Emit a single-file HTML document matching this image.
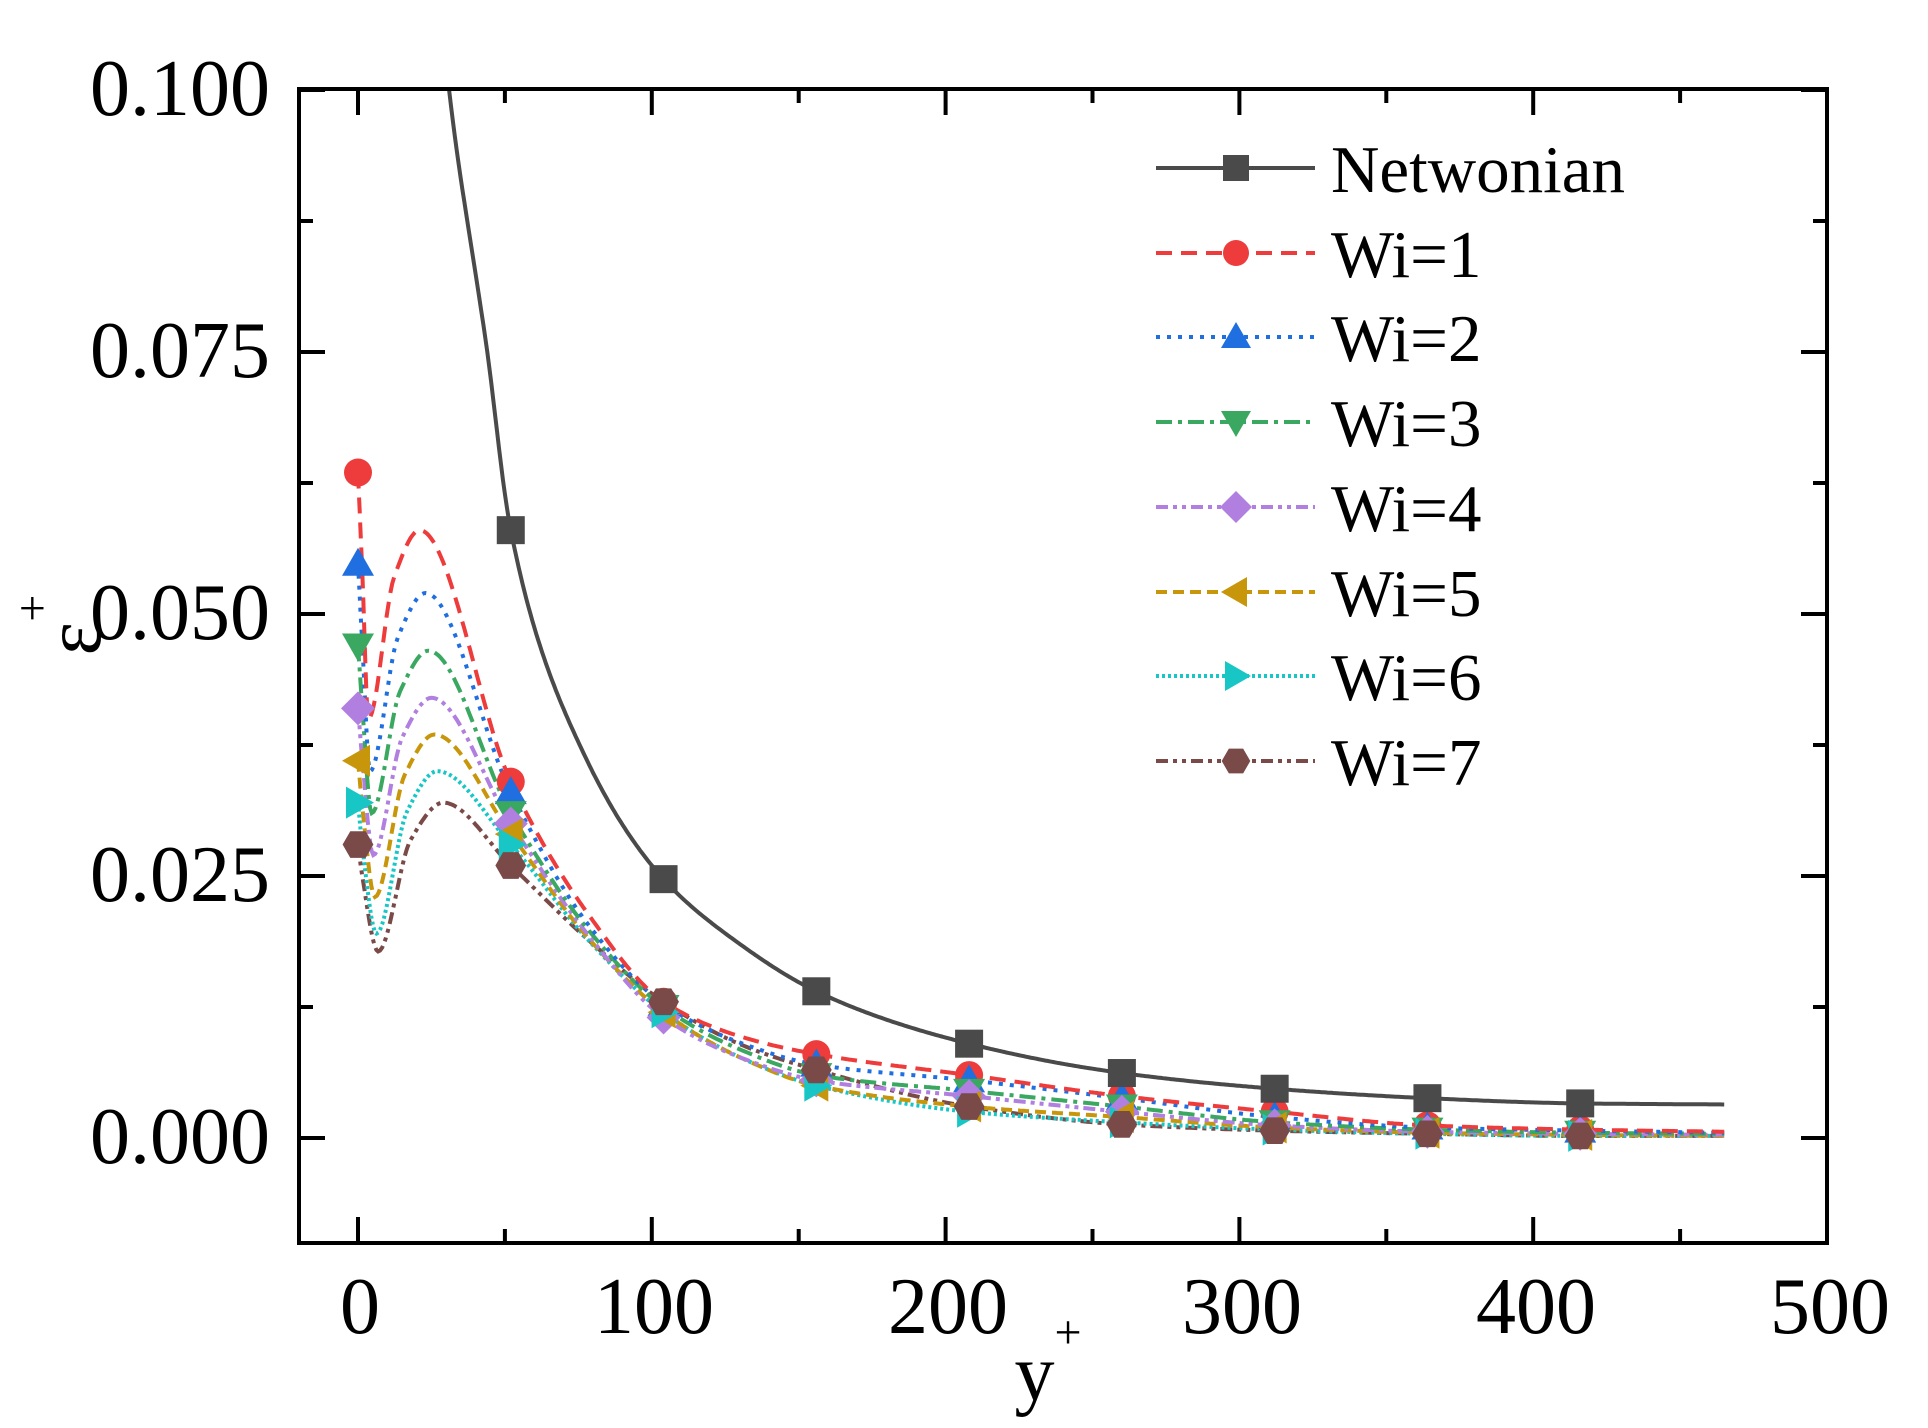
<!DOCTYPE html>
<html><head><meta charset="utf-8"><style>
html,body{margin:0;padding:0;background:#fff;}
svg{display:block;}
text{font-family:"Liberation Serif",serif;fill:#000;}
</style></head><body>
<svg id="s" width="1928" height="1428" viewBox="0 0 1928 1428" xmlns="http://www.w3.org/2000/svg">
<defs><clipPath id="c"><rect x="300" y="90" width="1526" height="1152"/></clipPath></defs>
<g id="plot" clip-path="url(#c)"></g>
<rect x="299" y="89" width="1528" height="1154" fill="none" stroke="#000" stroke-width="4"/>
<g id="ticks" stroke="#000" stroke-width="4"></g>
<g font-size="80" text-anchor="end">
<text x="270" y="115">0.100</text>
<text x="270" y="377">0.075</text>
<text x="270" y="639">0.050</text>
<text x="270" y="901">0.025</text>
<text x="270" y="1163">0.000</text>
</g>
<g font-size="80" text-anchor="middle">
<text x="360" y="1333">0</text>
<text x="654" y="1333">100</text>
<text x="948" y="1333">200</text>
<text x="1242" y="1333">300</text>
<text x="1536" y="1333">400</text>
<text x="1830" y="1333">500</text>
</g>
<text x="1048" y="1400" font-size="80" text-anchor="middle">y<tspan font-size="48" dy="-52">+</tspan></text>
<text transform="translate(100,625) rotate(-90)" font-size="80" text-anchor="middle">ε<tspan font-size="48" dy="-52">+</tspan></text>
<g id="legend"></g>
</svg>
<script>
var NS="http://www.w3.org/2000/svg";
function X(v){return 358+v*2.938;}
function Y(v){return 1138-v*10480;}
function el(p,t,a){var e=document.createElementNS(NS,t);for(var k in a)e.setAttribute(k,a[k]);p.appendChild(e);return e;}
var plot=document.getElementById('plot'),ticks=document.getElementById('ticks'),leg=document.getElementById('legend');
for(var v=0;v<=500;v+=50){var x=X(v),L=(v%100==0)?26:14;el(ticks,'line',{x1:x,y1:1243,x2:x,y2:1243-L});el(ticks,'line',{x1:x,y1:89,x2:x,y2:89+L});}
for(var i=0;i<=8;i++){var y=Y(i*0.0125),L=(i%2==0)?26:14;el(ticks,'line',{x1:299,y1:y,x2:299+L,y2:y});el(ticks,'line',{x1:1827,y1:y,x2:1827-L,y2:y});}
// monotone cubic interpolation
function mono(pts,logy){
 var n=pts.length,xs=pts.map(p=>p[0]),ys=pts.map(p=>logy?Math.log(p[1]):p[1]);
 var d=[],m=[];for(var i=0;i<n-1;i++)d.push((ys[i+1]-ys[i])/(xs[i+1]-xs[i]));
 m[0]=d[0];m[n-1]=d[n-2];
 for(var i=1;i<n-1;i++){if(d[i-1]*d[i]<=0)m[i]=0;else{var w1=2*(xs[i+1]-xs[i])+(xs[i]-xs[i-1]),w2=(xs[i+1]-xs[i])+2*(xs[i]-xs[i-1]);m[i]=(w1+w2)/(w1/d[i-1]+w2/d[i]);}}
 var out=[];
 for(var i=0;i<n-1;i++){var h=xs[i+1]-xs[i];var N=Math.max(6,Math.ceil(h*1.5));
  for(var k=0;k<N;k++){var t=k/N,t2=t*t,t3=t2*t;
   var y=(2*t3-3*t2+1)*ys[i]+(t3-2*t2+t)*h*m[i]+(-2*t3+3*t2)*ys[i+1]+(t3-t2)*h*m[i+1];
   if(logy)y=Math.exp(y);out.push([X(xs[i]+t*h),Y(y)]);}}
 out.push([X(xs[n-1]),Y(logy?Math.exp(ys[n-1]):ys[n-1])]);
 return 'M'+out.map(p=>p[0].toFixed(1)+','+p[1].toFixed(1)).join(' L');
}
function marker(g,type,x,y,c,s){s=s||14;
 if(type=='sq')el(g,'rect',{x:x-s,y:y-s,width:2*s,height:2*s,fill:c});
 else if(type=='ci')el(g,'circle',{cx:x,cy:y,r:s,fill:c});
 else if(type=='up')el(g,'polygon',{points:(x)+','+(y-s-2)+' '+(x-s-2)+','+(y+s-2)+' '+(x+s+2)+','+(y+s-2),fill:c});
 else if(type=='dn')el(g,'polygon',{points:(x)+','+(y+s+2)+' '+(x-s-2)+','+(y-s+2)+' '+(x+s+2)+','+(y-s+2),fill:c});
 else if(type=='di')el(g,'polygon',{points:x+','+(y-s-3)+' '+(x+s+3)+','+y+' '+x+','+(y+s+3)+' '+(x-s-3)+','+y,fill:c});
 else if(type=='lt')el(g,'polygon',{points:(x-s-2)+','+y+' '+(x+s-2)+','+(y-s-2)+' '+(x+s-2)+','+(y+s+2),fill:c});
 else if(type=='rt')el(g,'polygon',{points:(x+s+2)+','+y+' '+(x-s+2)+','+(y-s-2)+' '+(x-s+2)+','+(y+s+2),fill:c});
 else if(type=='hx'){var p=[];for(var k=0;k<6;k++){var a=Math.PI/3*k;p.push((x+s*1.1*Math.cos(a))+','+(y+s*1.1*Math.sin(a)));}el(g,'polygon',{points:p.join(' '),fill:c});}
}
var mx=[0,52,104,156,208,260,312,364,416];
var S=[
 {c:'#4a4a4a',m:'sq',d:'',name:'Netwonian'},
 {c:'#ee3b3b',m:'ci',d:'16 9',name:'Wi=1',v:[0.0635,0.034,0.013,0.008,0.006,0.004,0.0025,0.0012,0.0008,0.0006],mn:0.040,pk:[21,0.058],m78:0.0215},
 {c:'#1f6fe0',m:'up',d:'4 7',name:'Wi=2',v:[0.0548,0.033,0.0128,0.007,0.0055,0.0038,0.002,0.001,0.0007,0.0005],mn:0.035,pk:[23,0.052],m78:0.0205},
 {c:'#3aa860',m:'dn',d:'16 6 4 6',name:'Wi=3',v:[0.047,0.031,0.0125,0.006,0.0045,0.003,0.0015,0.0008,0.0005,0.0004],mn:0.031,pk:[24,0.0465],m78:0.02},
 {c:'#b07fe0',m:'di',d:'12 5 4 5 4 5',name:'Wi=4',v:[0.041,0.030,0.0115,0.0055,0.004,0.0025,0.0012,0.0006,0.0004,0.0003],mn:0.027,pk:[25,0.042],m78:0.0195},
 {c:'#c8960a',m:'lt',d:'11 6',name:'Wi=5',v:[0.036,0.029,0.012,0.005,0.003,0.002,0.001,0.0005,0.0003,0.0002],mn:0.023,pk:[26,0.0385],m78:0.0192},
 {c:'#18c6c6',m:'rt',d:'3 3',name:'Wi=6',v:[0.032,0.028,0.012,0.005,0.0025,0.0015,0.0008,0.0004,0.0002,0.0002],mn:0.0195,pk:[27,0.035],m78:0.019},
 {c:'#7a4a48',m:'hx',d:'12 5 4 5 4 5',name:'Wi=7',v:[0.028,0.026,0.013,0.0065,0.003,0.0013,0.0007,0.0004,0.0002,0.0002],mn:0.0178,pk:[29,0.032],m78:0.019}
];
var np=[[28,0.108],[31,0.1],[44,0.075],[52,0.058],[78,0.036],[104,0.0247],[130,0.0185],[156,0.014],[208,0.009],[260,0.0062],[312,0.0047],[364,0.0038],[416,0.0033],[465,0.0032]];
var nvals=[0.058,0.0247,0.014,0.009,0.0062,0.0047,0.0038,0.0033];
for(var si=S.length-1;si>=1;si--){var s=S[si],v=s.v;
 var mnx=3+si*0.55;
 var pts=[[0,v[0]],[1.5,(v[0]+s.mn)/2+0.002],[mnx,s.mn],[(mnx+s.pk[0])/2,s.mn+(s.pk[1]-s.mn)*0.75],s.pk,[52,v[1]],[78,s.m78],[104,v[2]],[130,(v[2]+v[3])/2-0.0008],[156,v[3]],[208,v[4]],[260,v[5]],[312,v[6]],[364,v[7]],[416,v[8]],[465,v[9]]];
 el(plot,'path',{d:mono(pts,false),fill:'none',stroke:s.c,'stroke-width':4,'stroke-dasharray':s.d});
}
el(plot,'path',{d:mono(np,true),fill:'none',stroke:'#4a4a4a','stroke-width':4});
for(var si=1;si<S.length;si++){var s=S[si];for(var i=0;i<9;i++)marker(plot,s.m,X(mx[i]),Y(s.v[i]),s.c);}
for(var i=1;i<9;i++)marker(plot,'sq',X(mx[i]),Y(nvals[i-1]),'#4a4a4a');
var ly=[168,253,337,422,507,592,676,761];
for(var i=0;i<8;i++){var s=S[i];
 el(leg,'line',{x1:1156,y1:ly[i],x2:1315,y2:ly[i],stroke:s.c,'stroke-width':4,'stroke-dasharray':s.d});
 marker(leg,s.m,1236,ly[i],s.c,13);
 var t=el(leg,'text',{x:1331,y:ly[i]+24,'font-size':67});t.textContent=s.name;}
</script>
</body></html>
